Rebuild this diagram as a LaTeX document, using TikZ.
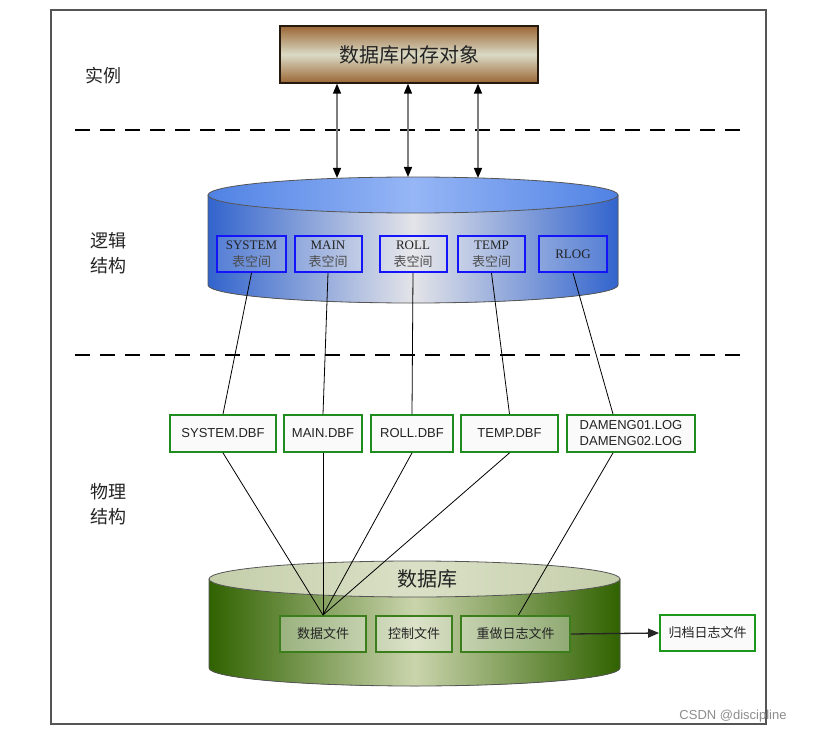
\documentclass[tikz,border=0pt]{standalone}
\usepackage{fontspec}
\setmainfont{Liberation Serif}
\newfontfamily\cjk{Noto Sans CJK SC}
\newfontfamily\arial{Liberation Sans}
\usetikzlibrary{arrows.meta,calc}
\definecolor{brownA}{RGB}{155,102,52}
\definecolor{beige}{RGB}{218,218,198}
\definecolor{bodyblue}{RGB}{50,100,205}
\definecolor{bodymid}{RGB}{228,228,232}
\definecolor{topblue}{RGB}{80,130,228}
\definecolor{topmid}{RGB}{150,182,245}
\definecolor{boxblue}{RGB}{20,20,250}
\definecolor{dkgreen}{RGB}{48,98,0}
\definecolor{midgreen}{RGB}{202,212,172}
\definecolor{topgreen}{RGB}{196,206,170}
\definecolor{topgreenmid}{RGB}{218,224,198}
\definecolor{dbgreen}{RGB}{60,125,28}
\definecolor{rowgreen}{RGB}{30,140,30}
\definecolor{rowfill}{RGB}{250,250,250}
\definecolor{txt}{RGB}{35,35,35}
\definecolor{rim}{RGB}{85,85,85}
\definecolor{shaft}{RGB}{125,125,125}
\begin{document}
\begin{tikzpicture}[x=1pt,y=1pt,
  bluebox/.style={draw=boxblue, line width=2pt, fill=white, fill opacity=0.15, text opacity=1,
    minimum height=36, inner sep=0pt, align=center, text=txt, font=\fontsize{13}{17}\selectfont},
  rowbox/.style={draw=rowgreen, line width=1.8pt, fill=rowfill, minimum height=37, inner sep=0pt,
    text=txt, font=\arial\fontsize{13}{16}\selectfont},
  dbbox/.style={draw=dbgreen, line width=2pt, fill=white, fill opacity=0.35, text opacity=1,
    minimum height=36, inner sep=0pt, text=txt, font=\cjk\fontsize{13}{15}\selectfont},
  side/.style={font=\cjk\fontsize{18}{25}\selectfont, align=center, text=txt},
  conn/.style={draw=black, line width=0.8pt},
  dashsep/.style={draw=black, line width=2.4pt, dash pattern=on 15pt off 10pt},
  dblarrow/.style={draw=shaft, line width=1.4pt,
    {Triangle[length=10pt,width=8pt,color=black]}-{Triangle[length=10pt,width=8pt,color=black]}}
]
\useasboundingbox (0,0) rectangle (817,-733);
% outer frame
\draw[draw=rim, line width=1.2pt] (51,-10) rectangle (766,-724);

% side labels
\node[side] (l1) at (103,-76) {实例};
\node[side] (l2) at (108,-253) {逻辑\\结构};
\node[side] (l3) at (108,-504) {物理\\结构};

% dashed separators
\coordinate (d1a) at (75,-130); \coordinate (d1b) at (745,-130);
\coordinate (d2a) at (75,-355); \coordinate (d2b) at (745,-355);
\draw[dashsep] (d1a) -- (d1b);
\draw[dashsep] (d2a) -- (d2b);

% memory objects box
\node[draw=black!80!brown, line width=1.3pt, top color=brownA, bottom color=brownA, middle color=beige,
  minimum width=258, minimum height=57, inner sep=0pt, text=txt, font=\cjk\fontsize{20}{24}\selectfont]
  (obj) at (409,-54.5) {数据库内存对象};

% blue cylinder
\fill[left color=bodyblue, right color=bodyblue, middle color=bodymid]
  (208,-195) -- (208,-285) arc[start angle=180, end angle=360, x radius=205, y radius=18] -- (618,-195) -- cycle;
\draw[rim, line width=0.8pt]
  (208,-195) -- (208,-285) arc[start angle=180, end angle=360, x radius=205, y radius=18] -- (618,-195);
\draw[rim, line width=0.8pt, left color=topblue, right color=topblue, middle color=topmid]
  (413,-195) ellipse[x radius=205, y radius=18];

% arrows between memory and logical
\coordinate (t1) at (337,-178);
\coordinate (t2) at (408,-177);
\coordinate (t3) at (478,-178);
\draw[dblarrow] (t1 |- obj.south) -- (t1);
\draw[dblarrow] (t2 |- obj.south) -- (t2);
\draw[dblarrow] (t3 |- obj.south) -- (t3);

% tablespace boxes
\node[bluebox, minimum width=69] (bsys) at (251.5,-254) {SYSTEM\\{\cjk\color{black!70}表空间}};
\node[bluebox, minimum width=67] (bmain) at (328,-254) {MAIN\\{\cjk\color{black!70}表空间}};
\node[bluebox, minimum width=67] (broll) at (413,-254) {ROLL\\{\cjk\color{black!70}表空间}};
\node[bluebox, minimum width=67] (btemp) at (491.5,-254) {TEMP\\{\cjk\color{black!70}表空间}};
\node[bluebox, minimum width=68] (brlog) at (573,-254) {RLOG};

% file boxes
\node[rowbox, minimum width=106] (fsys) at (223,-433.5) {SYSTEM.DBF};
\node[rowbox, minimum width=78] (fmain) at (323,-433.5) {MAIN.DBF};
\node[rowbox, minimum width=82] (froll) at (412,-433.5) {ROLL.DBF};
\node[rowbox, minimum width=97] (ftemp) at (509.5,-433.5) {TEMP.DBF};
\node[rowbox, minimum width=128, align=left] (flog) at (631,-433.5) {DAMENG01.LOG\\DAMENG02.LOG};
\coordinate (flogT) at ($(flog.north)+(-18,0)$);
\coordinate (flogB) at ($(flog.south)+(-18,0)$);

% green cylinder
\fill[left color=dkgreen, right color=dkgreen, middle color=midgreen]
  (209,-579) -- (209,-668) arc[start angle=180, end angle=360, x radius=205.5, y radius=18] -- (620,-579) -- cycle;
\draw[rim, line width=0.8pt]
  (209,-579) -- (209,-668) arc[start angle=180, end angle=360, x radius=205.5, y radius=18] -- (620,-579);
\draw[rim, line width=0.8pt, left color=topgreen, right color=topgreen, middle color=topgreenmid]
  (414.5,-579) ellipse[x radius=205.5, y radius=18];
\node[font=\cjk\fontsize{20}{24}\selectfont, text=txt] (dbname) at (427,-579) {数据库};

% database files
\node[dbbox, minimum width=86] (data) at (323,-634) {数据文件};
\node[dbbox, minimum width=76] (ctrl) at (414,-634) {控制文件};
\node[dbbox, minimum width=109] (redo) at (515.5,-634) {重做日志文件};
\node[draw=rowgreen!90!green, line width=1.8pt, fill=rowfill, minimum width=95, minimum height=36, inner sep=0pt,
  text=txt, font=\cjk\fontsize{13}{15}\selectfont] (arch) at (707.5,-633) {归档日志文件};

% connectors logical -> physical
\draw[conn] (bsys.south) -- (fsys.north);
\draw[conn] (bmain.south) -- (fmain.north);
\draw[conn] (broll.south) -- (froll.north);
\draw[conn] (btemp.south) -- (ftemp.north);
\draw[conn] (brlog.south) -- (flogT);

% connectors files -> database
\draw[conn] (fsys.south) -- (data.north);
\draw[conn] (fmain.south) -- (data.north);
\draw[conn] (froll.south) -- (data.north);
\draw[conn] (ftemp.south) -- (data.north);
\draw[conn] (flogB) -- ($(redo.north)+(3,0)$);

% archive arrow
\draw[draw=black!85, line width=1.3pt, -{Triangle[length=11pt,width=9pt]}] (redo.east) -- (arch.west);

% watermark
\node[font=\arial\fontsize{13}{15}\selectfont, text=black!45] (wm) at (733,-716) {CSDN @discipline};
\end{tikzpicture}
\end{document}
